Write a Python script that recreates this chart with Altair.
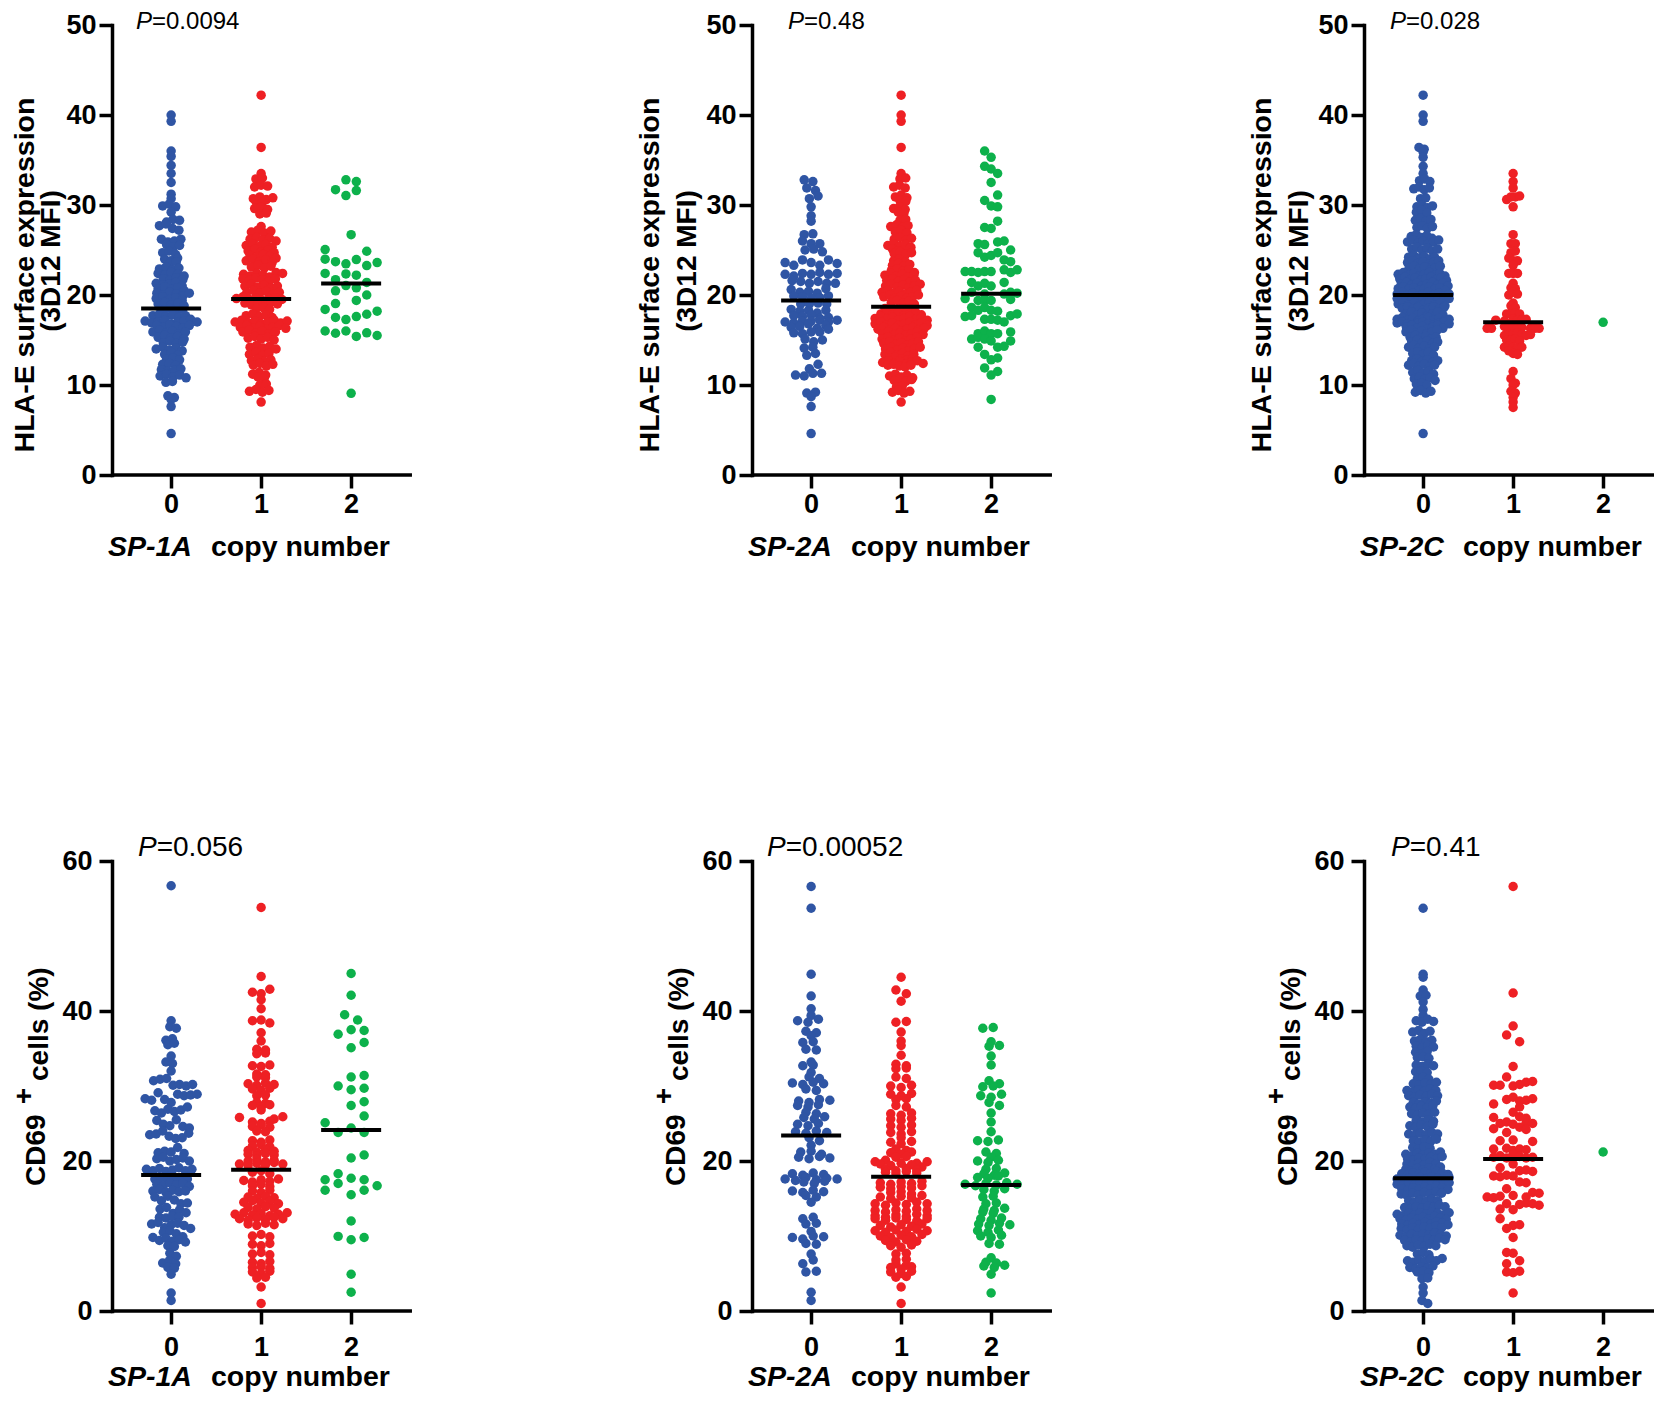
import altair as alt
import pandas as pd

N = None
# ---- HLA-E panels: each inner list is one swarm row, left to right
a1_blue = [[40.0],[39.3],[36.0],[35.4],[34.4],[33.5],[32.5],[31.2],[30.7],[29.9,30.1,29.8],[29.2],[28.1,28.4,28.3],
 [27.7,27.9,27.4,27.2],[26.2,25.9,26.0,26.2],[25.6,25.3,25.5],[24.7,24.9,24.5],[24.0,23.8,24.1],[23.5,23.7],
 [22.9,23.1,22.8,23.0],[22.4,22.2,22.5,22.3,22.1],[21.8,21.6,21.9,21.7],[21.3,21.1,21.2,21.4,21.0],
 [20.7,20.9,20.6,20.8,20.5],[20.2,20.0,20.3,20.1,19.9,20.2],[19.6,19.8,19.5,19.7,19.4],[19.0,19.2,18.9,19.1,18.8],
 [18.3,18.5,18.2,18.4],[17.7,17.9,17.6,17.8,17.5,17.7],[17.1,16.9,17.0,17.2,16.8,17.0,17.1,17.3,17.0],
 [16.6,16.4,16.7,16.5,16.3,16.6],[15.9,16.1,15.8,16.0,15.7,15.9],[15.3,15.5,15.2,15.4,15.1],[14.7,14.9,14.6,14.8],
 [14.0,14.2,13.9,14.1,13.8],[13.4,13.6,13.3],[12.9,13.0,12.8],[12.3,12.4,12.2],[11.7,11.5,11.6,11.8],
 [11.0,11.2,10.9,11.1,10.8],[10.3,10.4],[8.8,8.6],[8.4],[7.6],[4.6]]
a1_red = [[42.2],[36.4],[33.5],[32.9,33.0],[32.0,32.2,32.1],[30.7,30.9,30.6,30.8],[30.4,30.3],[29.6,29.8,29.5],[29.0,29.1],
 [27.6],[27.0,27.2,26.9,27.1],[26.2,26.4,26.1,26.3,26.0],[25.5,25.7,25.4,25.6,25.3],[24.9,25.1,24.8,25.0,24.7],
 [24.4,24.2,24.5,24.3,24.1],[23.8,24.0,23.7,23.9,23.6],[23.1,23.3,23.0,23.2],[22.3,22.1,22.4,22.2,22.0,22.5,22.4],
 [21.8,21.6,21.9,21.7,21.5,21.8],[21.0,21.2,20.9,21.1,20.8,21.0],[20.3,20.5,20.2,20.4,20.1,20.3],
 [19.6,19.8,19.5,19.7,19.4,19.6,19.7,19.5],[19.1,18.9,19.0,18.8,19.2,19.0],[18.5,18.6,18.4],[17.7,17.9,17.6,17.8,17.5],
 [17.0,17.2,16.9,17.1,16.8,17.0,17.2,16.9,17.1],[16.4,16.6,16.3,16.5,16.2,16.4,16.6,16.3],[15.9,16.1,15.8,16.0,15.7,15.9],
 [15.2,15.4,15.1,15.3,15.0],[14.2,14.4,14.1,14.3,14.0],[13.4,13.6,13.3,13.5],[12.7,12.9,12.6,12.8],[12.2,12.4,12.1,12.3],
 [11.2,11.4,11.1],[10.9,10.8],[10.0,10.1],[9.3,9.5,9.2,9.4],[8.1]]
a1_green = [[N,N,32.8,32.6,N,N],[N,31.7,31.05,31.6,N,N],[26.7],[25.05,N,N,N,24.86,N],[23.98,23.7,23.46,23.94,23.27,23.6],
 [22.4,N,22.34,22.2,N,N],[N,21.7,21.05,20.8,21.4,N],[N,20.46,N,N,20.0,N],[N,19.05,N,19.4,N,N],
 [18.4,17.5,17.27,17.6,17.86,18.2],[16.0,15.75,16.0,15.4,15.8,15.5],[9.08]]

a2_blue = [[32.8,32.6],[31.9,31.6],[30.7,31.0],[29.8],[28.8],[28.2],[26.7,26.8],[26.0,25.7,25.7],[25.0,25.1,24.8],
 [23.6,23.3,23.9,23.6,23.3,23.9,23.5],[22.3,22.1,22.4,22.3,22.5,22.3,22.4],[21.6,21.5,21.3,21.5,21.3,21.3],
 [20.6,20.3,20.4,20.2,20.7],[19.9,19.8,19.6,19.7,19.9],[19.0,19.0,19.1,19.0],[18.4,18.2,18.3,18.0,18.3],
 [17.7,17.6,17.8,17.4,17.5],[17.0,16.9,17.1,17.1,17.2,17.0,17.2],[16.4,16.5,16.8,16.3,16.6],[15.8,15.7,15.9,15.9,16.2],
 [15.1,14.8,15.0],[14.1,14.2],[13.3,13.5],[11.8,12.3],[11.1,11.0,11.3,11.3],[9.1,9.2],[8.7],[7.6],[4.6]]
a2_red = [[42.2],[40.0],[39.3],[36.4],[33.5],[32.9,33.0],[32.0,32.2,31.9],[30.9,31.1,30.8],[30.5,30.4],[29.6,29.8,29.5],[29.2,29.1],
 [28.3,28.4],[27.6,27.8,27.5,27.7],[27.0,27.2,26.9],[26.2,26.4,26.1,26.3],[25.5,25.7,25.4,25.6,25.3],[25.1,24.9,25.0,25.2],
 [24.6,24.8,24.5,24.7],[23.8,24.0,23.7],[23.3,23.5,23.2,23.4],[22.7,22.9,22.6,22.8,22.5],[22.2,22.4,22.1,22.3,22.0,22.2],
 [21.6,21.8,21.5,21.7,21.4,21.6],[21.0,21.2,20.9,21.1,20.8,21.0,21.2],[20.3,20.5,20.2,20.4,20.1,20.3,20.5],
 [19.8,20.0,19.7,19.9,19.6,19.8,20.0],[19.2,19.4,19.1,19.3,19.0],[18.5,18.7,18.4,18.6,18.3,18.5],
 [17.9,18.1,17.8,18.0,17.7,17.9,18.1,17.8],[17.4,17.6,17.3,17.5,17.2,17.4,17.6,17.3,17.5,17.2],
 [16.8,17.0,16.7,16.9,16.6,16.8,17.0,16.7,16.9,16.6],[16.2,16.4,16.1,16.3,16.0,16.2,16.4,16.1,16.3],
 [15.7,15.9,15.6,15.8,15.5,15.7,15.9,15.6],[15.1,15.3,15.0,15.2,14.9,15.1,15.3],[14.6,14.8,14.5,14.7,14.4,14.6,14.8],
 [14.0,14.2,13.9,14.1,13.8,14.0,14.2],[13.4,13.6,13.3,13.5,13.2,13.4],[13.0,13.1,12.9,12.8,13.0],
 [12.5,12.7,12.4,12.6,12.3,12.5,12.7,12.4],[12.2,12.3,12.1,12.0,12.2],[11.0,11.2,10.9,11.1,10.8],[10.5,10.7,10.4,10.6],
 [9.8,9.9],[9.2,9.4,9.1,9.3],[8.1]]
a2_green = [[N,N,N,36.0,N,N,N,N,N],[N,N,N,N,35.3,N,N,N,N],[N,N,N,34.3,34.0,N,N,N,N],[N,N,N,N,N,33.5,N,N,N],[N,N,N,N,32.5,N,N,N,N],
 [N,N,N,N,N,31.1,N,N,N],[N,N,N,30.5,29.9,29.8,N,N,N],[N,N,N,N,N,28.2,N,N,N],[N,N,N,27.5,27.4,N,N,N,N],
 [N,N,25.7,25.6,N,25.9,26.0,N,N],[N,N,N,N,N,N,N,25.0,N],[N,N,24.7,24.2,24.4,24.7,23.9,23.7,N],
 [22.6,22.6,22.5,22.6,22.6,N,22.8,22.5,22.8],[N,21.4,21.0,21.3,21.0,N,21.4,N,N],[N,20.3,N,20.1,N,N,20.1,20.3,20.2],
 [19.6,N,19.4,19.4,19.4,N,N,19.5,N],[N,18.6,18.3,18.6,18.3,18.2,N,N,N],[17.6,17.7,N,17.3,17.3,17.2,17.0,17.7,17.9],
 [N,N,15.7,16.0,15.7,15.7,N,15.9,N],[N,15.1,15.3,15.1,14.9,N,N,14.9,N],[N,N,14.2,N,N,14.2,14.3,N,N],[N,N,N,13.4,N,N,N,N,N],
 [N,N,N,N,12.8,13.0,N,N,N],[N,N,N,11.9,N,11.5,N,N,N],[N,N,N,N,11.1,N,N,N,N],[8.4]]

a3_blue = [[42.2],[40.0],[39.3],[36.4,36.2],[35.9],[35.3],[34.3],[33.5],[32.7,32.9,32.6],[31.8,32.0,31.7,31.9],[30.7,30.8],
 [29.8,30.0,29.7,29.9],[29.2,29.4,29.1],[28.3,28.5,28.2,28.4],[27.5,27.7,27.4,27.6],[26.5,26.7,26.4,26.6,26.3],
 [25.9,26.1,25.8,26.0,25.7,25.9,26.1],[25.1,25.3,25.0,25.2,24.9,25.1],[24.2,24.4,24.1,24.3,24.0,24.2],
 [23.6,23.8,23.5,23.7,23.4,23.6,23.8],[23.0,23.2,22.9,23.1,22.8,23.0,23.2],
 [22.3,22.5,22.2,22.4,22.1,22.3,22.5,22.2,22.4,22.1],[21.8,22.0,21.7,21.9,21.6,21.8,22.0,21.7,21.9,21.6],
 [21.2,21.4,21.1,21.3,21.0,21.2,21.4,21.1,21.3,21.0],[20.7,20.9,20.6,20.8,20.5,20.7,20.9,20.6,20.8,20.5],
 [20.1,20.3,20.0,20.2,19.9,20.1,20.3,20.0,20.2,19.9,20.1],[19.6,19.8,19.5,19.7,19.4,19.6,19.8,19.5,19.7,19.4,19.6],
 [19.0,19.2,18.9,19.1,18.8,19.0,19.2,18.9,19.1,18.8],[18.5,18.7,18.4,18.6,18.3,18.5,18.7,18.4,18.6],
 [17.9,18.1,17.8,18.0,17.7,17.9,18.1,17.8],[17.3,17.5,17.2,17.4,17.1,17.3,17.5,17.2,17.4,17.1,17.3],
 [16.9,17.0,16.8,16.7,16.9,17.0,16.8,16.7,16.9,17.0,16.8],[16.4,16.6,16.3,16.5,16.2,16.4,16.6,16.3],
 [15.9,16.1,15.8,16.0,15.7,15.9,16.1],[15.3,15.5,15.2,15.4,15.1,15.3],[14.8,15.0,14.7,14.9,14.6,14.8],
 [14.2,14.4,14.1,14.3,14.0,14.2],[13.5,13.7,13.4,13.6,13.3],[12.7,12.9,12.6,12.8,12.5,12.7],[12.2,12.4,12.1,12.3,12.0,12.2],
 [11.4,11.6,11.3,11.5,11.2],[10.7,10.9,10.6,10.8,10.5],[10.1,10.2,10.0],[9.2,9.4,9.1,9.3],[4.6]]
a3_red = [[33.5],[32.6],[31.9],[30.6,30.9,30.9,31.0],[29.8],[26.7],[25.7,25.7],[24.7,24.9],[24.1,23.8,23.8],[23.3],
 [22.4,22.4,22.4],[21.3],[20.8,20.7],[20.0,20.3,20.1],[19.1],[18.8,18.6],[17.9,17.9,18.0,17.9],
 [N,N,17.2,N,17.1,N,17.3,17.2,17.2,17.3,N,N,N],[16.3,16.3,N,N,16.5,16.4,16.5,16.4,16.4,N,16.3,16.3,16.3],
 [N,N,N,N,15.5,15.6,15.7,15.8,15.6,15.5,15.6,N,N],[15.0,15.0,15.1,14.9],[14.2,14.3,14.2,14.1,14.2],[13.8,13.5,13.4],
 [11.5],[10.7,10.2],[10.0],[9.3,9.1],[8.6],[8.1],[7.5]]
a3_green = [[16.96]]

# ---- CD69 panels
b1_blue = [[56.7],[38.7],[37.9,37.7],[36.1,36.3],[35.5,35.7],[34.0],[33.2,33.0],[32.0],[30.7,30.9,31.0,30.1,30.2,30.0,30.2],
 [28.3,28.1,29.1,28.2,27.8,28.9,28.7,28.8,28.9],[26.7,26.4,26.9,26.6,26.8,27.2],[25.4,24.9,24.7,25.5,24.6,24.4],
 [23.5,23.6,24.0,23.3,23.0,23.1,23.7],[21.1,21.3,21.2,21.8,21.0],[20.3,20.5,20.0,20.2,20.4,20.0],
 [18.9,18.7,19.0,18.6,18.8,19.1,18.7,18.9],[17.6,17.8,17.4,17.7,17.5,17.6],[16.9,16.7,17.1,16.8,17.0,16.6],
 [16.0,16.2,15.8,16.1,15.9,16.0],[15.2,14.7,15.3,14.8,14.3,14.4],[13.6,13.8,13.0,13.5,13.1],[12.5,12.4,12.6,12.5],
 [11.6,11.8,11.1,11.5,11.7,11.4,11.0],[10.5,10.7,10.3,9.9],[9.8,9.4,9.7,9.3,9.5,9.2],[8.7,8.6],[7.7,7.3],[6.4,6.7,6.3],[5.8,5.7],[4.9],[2.4],[1.4]]
b1_red = [[53.8],[44.6],[42.5,42.3,42.9],[41.5],[40.3],[38.7,38.8,38.4],[37.1],[36.0],[34.9,34.8],[34.3,34.4],[32.7,32.6,32.8],
 [31.6,31.5],[31.2,31.1],[30.3,30.1,30.4,30.2],[29.6,29.4,29.7],[28.7,28.8],[27.8,27.7],[27.4,27.2,27.5],[26.8],
 [25.8,N,N,N,25.6,25.9],[25.2,25.0,25.3],[24.6,24.8,24.5],[24.0,23.9],[22.7,22.5,22.8],[22.0,22.2,21.9],[21.4,21.2,21.5,21.3],
 [20.9,20.7,21.0,20.8],[20.0,20.2,19.9,20.1],[19.6,19.4,19.7,19.5,19.8,19.6],[18.5,18.7,18.3],[17.4,17.2,17.5,17.3,17.6],[16.7,16.9,16.6],
 [16.0,15.8,16.1],[15.2,15.0,15.3,15.1],[14.5,14.7,14.4,14.6,14.3],[13.8,13.6,13.9,13.7],[12.9,13.1,12.8,13.0,12.7,12.9,13.1],
 [12.3,12.1,12.4,12.2,12.5,12.3],[11.6,11.4,11.7,11.5],[10.0,10.2,9.9],[8.9,8.7,9.0],[7.6,7.8,7.5],[6.5,6.3,6.6],[5.8,5.9,5.7],
 [5.2,5.0,5.3],[4.4,4.5],[3.2],[1.0]]
b1_green = [[45.0],[42.1],[39.5,38.8],[36.9,37.5,37.4],[N,N,35.1,35.8,N],[N,N,31.2,31.4,N],[30.0,29.5,29.7],[N,N,27.4,27.9,N],[N,N,N,26.0,N],
 [25.1,23.8,24.4,23.8,N],[N,N,20.4,20.8,N],[N,18.3,N,N,N],[17.5,17.0,17.7,17.5,16.7],[16.1,N,15.5,16.1,N],[12.0],[9.95,9.5,9.8],[4.9],[2.5]]

b2_blue = [[56.6],[53.7],[44.9],[42.0],[40.3],[39.4],[38.7,38.5,38.9],[37.3,37.1],[36.7],[35.8,35.9],[34.9,34.8],[33.2],[32.7,32.8],[31.8],
 [31.2,31.0],[30.4,30.2,30.5,30.3],[29.6,29.4],[28.0,27.8,28.2,28.1],[27.4,27.2,27.5],[26.5,26.3],[25.8,25.6,25.9],[24.9,24.7,25.0],
 [23.9,23.7,24.0,23.8],[23.1,22.7],[22.1],[21.2,21.3,20.9],[20.5,20.3,20.6,20.4],[18.3,18.1,18.4,18.2],[17.6,17.4,17.8,17.5,17.7,17.6],
 [17.2,17.0,17.3],[16.0,15.8,16.1,15.9],[15.4,15.2],[14.5],[12.3,12.5],[11.6,11.7],[10.6],[9.8,9.6,10.0,9.9],[9.0,8.9],[7.6],[6.3,6.8],[5.2,5.3],[2.5],[1.4]]
b2_red = [[44.5],[42.8,42.3],[41.3],[38.5,38.6],[37.2],[36.0],[35.4],[34.1],[32.9,32.7],[32.3,32.4],[31.2,31.0],[30.0,29.8,30.1],[28.9,28.7,29.0],
 [28.2,28.3],[27.4,27.2],[26.3,26.1,26.4],[25.6,25.4,25.7],[24.7,24.5,24.8],[23.8,23.6,23.9],[23.1],[22.5,22.3,22.6],[21.6,21.4],[21.1,20.9,21.2],
 [20.5,20.6],[19.9,20.1,N,N,19.7,19.9],[19.6,19.4,19.7,19.5,19.2],[18.9,18.7,19.0,18.8],[18.5,18.3,18.6,18.4],[17.1,16.9,17.2,17.0,17.3],[16.5,16.3,16.6,16.4,16.7],[15.8,15.9,15.6],
 [15.2,15.0,15.3,15.1,15.4],[14.3,14.1,14.4,14.2,14.5,14.3],[13.4,13.2,13.5,13.3,13.6,13.4],[12.7,12.5,12.8,12.6,12.9,12.7],[12.3,12.1,12.4,12.2,12.0,12.3],[11.4,11.2,11.5,11.3,11.6],
 [10.7,10.5,10.8,10.6,10.9,10.7],[10.0,9.8,10.1,9.9,10.2],[9.4,9.2,9.5,9.3],[8.7,8.5,8.8],[7.6,7.7],[6.8,6.9],[6.3,6.1],[5.8,5.6,5.9],[5.2,5.0,5.3],[4.5,4.6],[3.2],[1.0]]
b2_green = [[37.7,37.8],[35.9],[35.3,35.4],[34.0],[32.8],[30.7,30.3],[29.9,30.0],[28.7,28.5,28.9],[27.8,27.4],[26.4],[25.2],[23.9],[22.7,22.6,22.8],
 [21.2,21.0],[20.5],[20.0,19.8,20.1],[18.9,19.0],[18.3,18.1,18.4],[17.8,17.7,18.0],[16.9,16.7,17.0,16.8,17.1,16.9],[16.2,16.0,16.3],[15.2,15.3],[14.3,14.4],
 [13.6,13.4,13.7],[13.2,13.0],[12.3,12.1,12.4],[11.6,11.4,11.7,11.5],[10.7,10.5,10.8],[10.0,9.8,10.1],[9.0,8.9],[7.1],[6.5,6.4],[6.0,5.8,6.1],[4.9],[2.4]]

b3_blue = [[53.7],[44.9],[44.5],[42.8],[42.0,42.1],[41.2],[40.2],[39.4],[38.7,38.5,38.9,38.6],[37.2,37.4,37.0,37.3],[36.0,36.2,35.9,36.1],[35.3,35.1,35.4,35.2],
 [34.5,34.3,34.6],[33.8,33.9,33.7],[32.8,32.6,32.9,32.7],[31.9,32.0,31.8],[31.0,31.2,30.9],[30.3,30.1,30.4,30.2,30.5],
 [29.4,29.2,29.5,29.3,29.6,29.4],[28.7,28.5,28.8,28.6,28.9,28.7],[27.8,27.6,27.9,27.7,28.0],[27.2,27.0,27.3,27.1,27.4],[26.3,26.1,26.4,26.2,26.5],
 [25.4,25.2,25.5,25.3],[24.7,24.5,24.8,24.6,24.9],[23.6,23.4,23.7,23.5,23.8,23.6],[22.7,22.5,22.8,22.6,22.9],[21.8,21.6,21.9,21.7],
 [20.9,20.7,21.0,20.8,21.1,20.9,21.2],[20.3,20.1,20.4,20.2,20.5,20.3,20.6],[19.6,19.4,19.7,19.5,19.8,19.6],[18.9,18.7,19.0,18.8,19.1,18.9,19.2],
 [18.3,18.1,18.4,18.2,18.5,18.3,18.6,18.4,18.2],[17.6,17.4,17.7,17.5,17.8,17.6,17.9,17.7,17.5,17.8],[16.9,16.7,17.0,16.8,17.1,16.9,17.2,17.0,16.8,17.1],
 [16.3,16.1,16.4,16.2,16.5,16.3,16.6,16.4,16.2],[15.6,15.4,15.7,15.5,15.8,15.6,15.9,15.7],[14.7,14.5,14.8,14.6,14.9,14.7],
 [13.8,13.6,13.9,13.7,14.0,13.8,14.1,13.9],[12.9,12.7,13.0,12.8,13.1,12.9,13.2,13.0,12.8,13.1],[12.3,12.1,12.4,12.2,12.5,12.3,12.6,12.4,12.2],
 [11.6,11.4,11.7,11.5,11.8,11.6,11.9,11.7,11.5],[11.0,10.8,11.1,10.9,11.2,11.0,11.3,11.1],[10.1,9.9,10.2,10.0,10.3,10.1,10.4,10.2,10.0],
 [9.4,9.2,9.5,9.3,9.6,9.4,9.7,9.5],[8.7,8.5,8.8,8.6,8.9,8.7],[7.6,7.8,7.5],[6.7,6.5,6.8,6.6,6.9,6.7,7.0],[5.8,5.6,5.9,5.7,6.0],[5.2,5.3,5.1],[4.3,4.4],[3.2],[2.4],[1.4,1.0]]
b3_red = [[56.6],[42.4],[38.0],[N,N,N,36.8,N,N,N,N,N],[N,N,N,N,N,35.9,N,N,N],[32.6],[N,N,N,31.2,N,N,N,N,N],[N,30.1,30.1,N,30.0,30.2,30.5,30.6,N],
 [N,N,N,28.2,28.5,28.0,28.1,28.3,N],[N,27.6,N,N,N,27.2,N,N,N],[N,N,N,N,26.5,N,N,N,N],[N,25.8,N,N,N,25.9,25.7,N,N],[N,N,25.0,25.2,24.9,N,25.1,25.0,N],
 [N,24.3,N,23.8,N,24.5,24.2,N,N],[N,N,22.7,N,22.8,N,N,22.6,N],[N,21.6,N,21.7,21.4,21.6,21.5,N,N],[N,20.5,20.7,20.4,20.9,20.6,20.4,20.5,N],
 [N,N,19.1,N,19.6,N,N,N,N],[N,18.0,17.9,18.1,18.0,18.7,18.8,18.6,N],[N,N,N,N,N,17.2,17.1,N,N],[N,N,N,16.3,N,N,N,N,N],
 [15.2,15.1,15.3,N,15.4,N,15.2,15.8,15.7],[N,N,N,14.3,N,14.2,14.4,14.3,14.1],[N,N,13.6,N,13.5,N,N,N,N],[N,N,12.3,N,N,N,N,N,N],
 [N,N,N,11.0,11.4,11.5,N,N,N],[9.8],[N,N,N,7.8,7.7,N,N,N,N],[N,N,N,6.3,N,6.7,N,N,N],[N,N,N,5.2,5.1,5.3,N,N,N],[2.4]]
b3_green = [[21.2]]

medians = {"a1":[18.5,19.56,21.27],"a2":[19.4,18.7,20.15],"a3":[20.0,16.96,None],
           "b1":[18.13,18.84,24.13],"b2":[23.4,17.9,16.8],"b3":[17.7,20.27,None]}
groups = {"a1":[a1_blue,a1_red,a1_green],"a2":[a2_blue,a2_red,a2_green],"a3":[a3_blue,a3_red,a3_green],
          "b1":[b1_blue,b1_red,b1_green],"b2":[b2_blue,b2_red,b2_green],"b3":[b3_blue,b3_red,b3_green]}
p_values = {"a1":"=0.0094","a2":"=0.48","a3":"=0.028","b1":"=0.056","b2":"=0.00052","b3":"=0.41"}
genes = {"1":"SP-1A","2":"SP-2A","3":"SP-2C"}
colors = ["#2f55a4","#ee2024","#0db14b"]
FONT = "Liberation Sans"
X0 = -0.657
X1 = 2.676
PXU = 90.0

def swarm(cat, rows):
    maxn = max(len(r) for r in rows)
    d = 13.0 if maxn < 2 else min(13.0, 52.0/(maxn-1))
    slotted = any(v is None for r in rows for v in r)
    out = []
    for k, r in enumerate(rows):
        n = len(r)
        # break up column alignment between neighbouring rows of free swarms
        shift = 0.0 if (slotted or n < 2 or n == maxn) else ((k % 3) - 1)*d*0.3
        for i, v in enumerate(r):
            if v is None:
                continue
            out.append({"x": cat + ((i-(n-1)/2)*d + shift)/PXU, "y": v, "g": str(cat)})
    return out

def txt(s, x, y, size, **kw):
    return alt.Chart(pd.DataFrame({"t":[s]})).mark_text(font=FONT, fontSize=size, align=kw.pop("align","left"),
        baseline=kw.pop("baseline","alphabetic"), color="black", **kw).encode(x=alt.value(x), y=alt.value(y), text="t:N")

p_x = {"a1":24,"a2":36,"a3":26,"b1":26,"b2":15,"b3":27}

def panel(key, width):
    row, col = key[0], key[1]
    top = row == "a"
    h = 450
    ymax = 50 if top else 60
    ystep = 10 if top else 20
    pts = []
    for c, rows in enumerate(groups[key]):
        pts += swarm(c, rows)
    df = pd.DataFrame(pts)
    xs = alt.Scale(domain=[X0, X0+width/PXU], nice=False, zero=False)
    ys = alt.Scale(domain=[0, ymax], nice=False, zero=True)
    xax = alt.Axis(values=[0,1,2], format="d", domain=False, grid=False, title=None, tickColor="black", tickWidth=3.5, tickSize=13,
                   labelFont=FONT, labelFontWeight="bold", labelFontSize=27, labelColor="black", labelPadding=(3 if top else 10), labelFlush=False, labelOverlap=False)
    yax = alt.Axis(values=list(range(0,ymax+1,ystep)), domainColor="black", domainWidth=3.5, grid=False, title=None, tickColor="black", tickWidth=3.5, tickSize=13,
                   labelFont=FONT, labelFontWeight="bold", labelFontSize=27, labelColor="black", labelPadding=(3 if top else 7), labelFlush=False, labelOverlap=False)
    points = alt.Chart(df).mark_circle(size=90, opacity=1).encode(
        x=alt.X("x:Q", scale=xs, axis=xax),
        y=alt.Y("y:Q", scale=ys, axis=yax),
        color=alt.Color("g:N", scale=alt.Scale(domain=["0","1","2"], range=colors), legend=None))
    x_end = min(X1, X0 + width/PXU)
    base = alt.Chart(pd.DataFrame({"a":[X0],"b":[x_end],"y":[0]})).mark_rule(color="black", strokeWidth=3.5).encode(
        x=alt.X("a:Q", scale=xs), x2="b:Q", y=alt.Y("y:Q", scale=ys))
    med = pd.DataFrame([{"a":c-1/3,"b":c+1/3,"y":m} for c,m in enumerate(medians[key]) if m is not None])
    bars = alt.Chart(med).mark_rule(color="black", strokeWidth=4).encode(
        x=alt.X("a:Q", scale=xs), x2="b:Q", y=alt.Y("y:Q", scale=ys))
    ly = h + (81 if top else 75)
    layers = [points, base, bars,
              txt(genes[col], -4, ly, 28.5, fontWeight="bold", fontStyle="italic"),
              txt("copy number", 99, ly, 28.5, fontWeight="bold")]
    size_p = 24 if top else 28
    py = 4 if top else -5
    layers += [txt("P", p_x[key], py, size_p, fontStyle="italic"),
               txt(p_values[key], p_x[key]+size_p*0.667, py, size_p)]
    if top:
        x1 = -78 if col == "1" else -93
        layers += [txt("HLA-E surface expression", x1, 250, 28.5, fontWeight="bold", angle=270, align="center"),
                   txt("(3D12 MFI)", -52 if col == "1" else -56, 236, 28, fontWeight="bold", angle=270, align="center")]
    else:
        layers += [txt("CD69", -67, 325, 28, fontWeight="bold", angle=270),
                   txt("+", -79, 235, 28, fontWeight="bold", angle=270, align="center"),
                   txt("cells (%)", -64, 220, 28, fontWeight="bold", angle=270)]
    return alt.layer(*layers).properties(width=width, height=h)

widths = {"1":328,"2":300,"3":291}
charts = [panel(r+c, widths[c]) for r in "ab" for c in "123"]
chart = alt.ConcatChart(concat=charts, columns=3, spacing={"row":386,"column":312}, bounds="flush",
                        padding={"left":2,"top":2,"right":-3,"bottom":0}).configure_view(stroke=None).configure_axis(domainCap="square")
chart.save("out.html", embed_options={"renderer": "svg", "actions": False})
